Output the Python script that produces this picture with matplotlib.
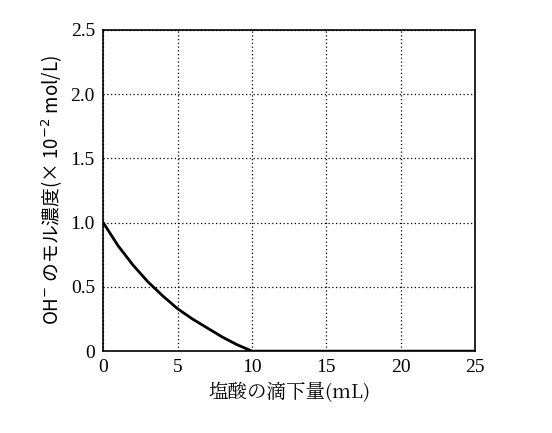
import matplotlib
matplotlib.use("Agg")
import matplotlib.pyplot as plt

x_vals = [0, 1, 2, 3, 4, 5, 6, 7, 8, 9, 10, 25]
y_vals = [1.0, 0.82, 0.67, 0.54, 0.43, 0.33, 0.25, 0.18, 0.11, 0.05, 0.0, 0.0]
xticks = [0, 5, 10, 15, 20, 25]
yticks = [0, 0.5, 1.0, 1.5, 2.0, 2.5]
yticklabels = ["0", "0.5", "1.0", "1.5", "2.0", "2.5"]

fig = plt.figure(figsize=(5.52, 4.33), dpi=100)
ax = fig.add_axes([0.187, 0.189, 0.674, 0.742])
ax.plot(x_vals, y_vals, color="black", lw=2)
ax.set_xlim(0, 25)
ax.set_ylim(0, 2.5)
ax.set_xticks(xticks)
ax.set_yticks(yticks)
ax.set_yticklabels(yticklabels)
for lab in ax.get_xticklabels() + ax.get_yticklabels():
    lab.set_family("Liberation Serif")
    lab.set_fontsize(14)
ax.tick_params(direction="in", length=0, pad=6)
ax.grid(True, color="black", linestyle=(0, (1, 2)), lw=0.9)
for s in ax.spines.values():
    s.set_linewidth(1.2)
ax.set_xlabel("塩酸の滴下量(mL)", family=["Noto Serif CJK JP", "Noto Sans CJK JP", "DejaVu Sans"], fontsize=14)
ax.set_ylabel("OH$^{-}$ のモル濃度(× 10$^{-2}$ mol/L)", family=["Noto Sans CJK JP", "DejaVu Sans"], fontsize=13.5)
fig.savefig("out.png", dpi=100)
